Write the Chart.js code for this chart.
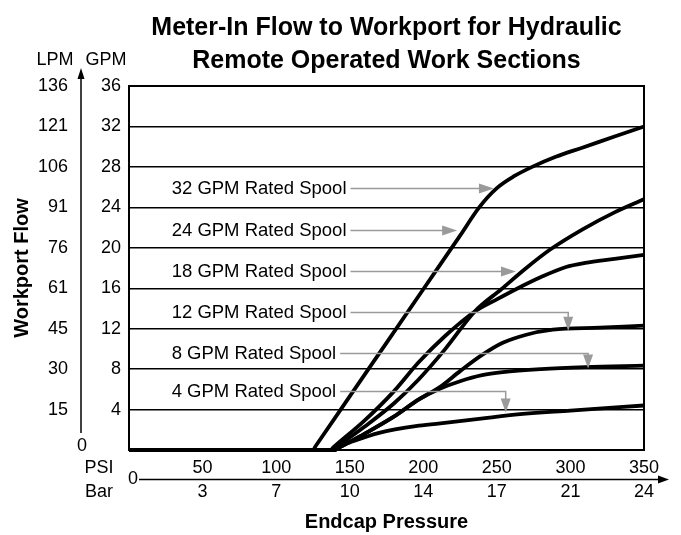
<!DOCTYPE html>
<html>
<head>
<meta charset="utf-8">
<title>Meter-In Flow to Workport</title>
<script src="https://cdn.jsdelivr.net/npm/chart.js@4/dist/chart.umd.min.js"></script>
<style>
  html, body { margin: 0; padding: 0; background: #ffffff; }
  #appLineChart { display: block; }
</style>
</head>
<body>
<canvas id="appLineChart" width="681" height="535"></canvas>
<script>
/*********************************************************************************************************
 *                                          CHART DATA
 *********************************************************************************************************/

const psiTicks = [0, 50, 100, 150, 200, 250, 300, 350];
const barTicks = [0, 3, 7, 10, 14, 17, 21, 24];
const gpmTicks = [0, 4, 8, 12, 16, 20, 24, 28, 32, 36];
const lpmTicks = [0, 15, 30, 45, 61, 76, 91, 106, 121, 136];

const spoolNames = [
  "32 GPM Rated Spool", "24 GPM Rated Spool", "18 GPM Rated Spool",
  "12 GPM Rated Spool", "8 GPM Rated Spool", "4 GPM Rated Spool",
];

// endcap pressure (psi) / workport flow (gpm)
const psi32 = [0, 125, 127, 150, 175, 200, 225, 238, 250, 262, 274, 290, 308, 330, 350];
const gpm32 = [0, 0, 0.42, 5.3, 10.6, 15.9, 21.2, 24, 25.9, 27.1, 28, 29.0, 29.9, 31, 32];

const psi24 = [0, 138, 140, 160, 180, 197, 215, 235, 253, 270, 286, 308, 330, 350];
const gpm24 = [0, 0, 0.2, 2.3, 4.6, 7.0, 10.0, 13.7, 15.9, 18.0, 19.8, 21.8, 23.5, 24.8];

const psi18 = [0, 137, 139, 160, 180, 197, 215, 235, 250, 263, 280, 297, 310, 330, 350];
const gpm18 = [0, 0, 0.27, 2.9, 5.8, 8.7, 11.3, 13.7, 14.9, 15.9, 17.1, 18.1, 18.5, 18.9, 19.3];

const psi12 = [0, 140, 142, 160, 180, 197, 212, 225, 240, 254, 270, 288, 320, 350];
const gpm12 = [0, 0, 0.17, 1.6, 3.3, 5.0, 6.3, 7.8, 9.4, 10.6, 11.4, 11.9, 12.1, 12.3];

const psi8 = [0, 140, 142, 160, 180, 197, 212, 225, 240, 254, 280, 310, 350];
const gpm8 = [0, 0, 0.17, 1.6, 3.3, 5.0, 6.1, 6.8, 7.4, 7.7, 8.0, 8.2, 8.35];

const psi4 = [0, 137, 139, 150, 170, 197, 216, 245, 256, 300, 350];
const gpm4 = [0, 0, 0.14, 0.75, 1.7, 2.4, 2.7, 3.2, 3.4, 3.9, 4.4];

/*********************************************************************************************************
 *                                          APP CHART SETTINGS
 *********************************************************************************************************/

const FONT = "'Liberation Sans', Arial, Helvetica, sans-serif";

const lineChartSettings = {
  chartTitle: ["Meter-In Flow to Workport for Hydraulic", "Remote Operated Work Sections"],
  xAxisTitle: "Endcap Pressure",
  yAxisTitle: "Workport Flow",
  lineColor: "#000000",
  calloutColor: "#9a9a9a",
};

// where each callout label sits and where its grey arrow points (data units)
const callouts = [
  { text: spoolNames[0], labelX: 29, labelY: 25.9, tipX: 248, tipY: 25.9, bend: false },
  { text: spoolNames[1], labelX: 29, labelY: 21.8, tipX: 223, tipY: 21.8, bend: false },
  { text: spoolNames[2], labelX: 29, labelY: 17.7, tipX: 263, tipY: 17.7, bend: false },
  { text: spoolNames[3], labelX: 29, labelY: 13.6, tipX: 298.5, tipY: 11.8, bend: true },
  { text: spoolNames[4], labelX: 29, labelY: 9.6, tipX: 312, tipY: 8.05, bend: true },
  { text: spoolNames[5], labelX: 29, labelY: 5.8, tipX: 256, tipY: 3.7, bend: true },
];

/*********************************************************************************************************
 *                                          DRAW HELPERS
 *********************************************************************************************************/

function drawArrowHead(ctx, x, y, dir, len, half) {
  // dir: "right" | "down" | "up"
  ctx.beginPath();
  if (dir === "right") {
    ctx.moveTo(x, y);
    ctx.lineTo(x - len, y - half);
    ctx.lineTo(x - len, y + half);
  } else if (dir === "down") {
    ctx.moveTo(x, y);
    ctx.lineTo(x - half, y - len);
    ctx.lineTo(x + half, y - len);
  } else {
    ctx.moveTo(x, y);
    ctx.lineTo(x - half, y + len);
    ctx.lineTo(x + half, y + len);
  }
  ctx.closePath();
  ctx.fill();
}

const extrasPlugin = {
  id: "extras",
  afterDatasetsDraw(chart) {
    const ctx = chart.ctx;
    const xs = chart.scales.x;
    const ys = chart.scales.y;
    const area = chart.chartArea;

    ctx.save();

    // plot frame
    ctx.strokeStyle = "#000";
    ctx.lineWidth = 2;
    ctx.strokeRect(area.left, area.top, area.right - area.left, area.bottom - area.top);

    // grey callouts
    ctx.font = "18.5px " + FONT;
    ctx.textBaseline = "middle";
    ctx.textAlign = "left";
    ctx.strokeStyle = lineChartSettings.calloutColor;
    ctx.fillStyle = lineChartSettings.calloutColor;
    ctx.lineWidth = 1.5;
    callouts.forEach(c => {
      const lx = xs.getPixelForValue(c.labelX);
      const ly = Math.round(ys.getPixelForValue(c.labelY)) + 0.5;
      const w = ctx.measureText(c.text).width;
      const tx = xs.getPixelForValue(c.tipX);
      const ty = ys.getPixelForValue(c.tipY);
      ctx.fillStyle = "#000";
      ctx.fillText(c.text, lx, ly);
      ctx.fillStyle = lineChartSettings.calloutColor;
      ctx.beginPath();
      ctx.moveTo(lx + w + 4, ly);
      if (c.bend) {
        ctx.lineTo(tx, ly);
        ctx.lineTo(tx, ty - 12);
        ctx.stroke();
        drawArrowHead(ctx, tx, ty, "down", 14, 5);
      } else {
        ctx.lineTo(tx - 12, ly);
        ctx.stroke();
        drawArrowHead(ctx, tx, ly, "right", 15, 5);
      }
    });

    // LPM column and its arrow
    ctx.fillStyle = "#000";
    ctx.strokeStyle = "#000";
    ctx.font = "18px " + FONT;
    ctx.textAlign = "right";
    for (let i = 1; i < gpmTicks.length; i++) {
      ctx.fillText(String(lpmTicks[i]), 68, ys.getPixelForValue(gpmTicks[i]));
    }
    ctx.textAlign = "center";
    ctx.fillText(String(lpmTicks[0]), 82, ys.getPixelForValue(0) - 4);
    ctx.fillText("LPM", 55, 60);
    ctx.fillText("GPM", 106, 60);

    ctx.lineWidth = 1.5;
    ctx.beginPath();
    ctx.moveTo(81, 433);
    ctx.lineTo(81, 76);
    ctx.stroke();
    drawArrowHead(ctx, 81, 68, "up", 11, 3.5);

    // PSI / Bar row labels and pressure arrow
    ctx.textAlign = "center";
    ctx.fillText("PSI", 99, 468);
    ctx.fillText("Bar", 99, 492);
    ctx.fillText(String(psiTicks[0]), 133, 479);
    ctx.beginPath();
    ctx.moveTo(139, 479.5);
    ctx.lineTo(660, 479.5);
    ctx.stroke();
    drawArrowHead(ctx, 669, 479.5, "right", 11, 4);

    ctx.restore();
  },
};

/*********************************************************************************************************
 *                                          CHART OPTIONS
 *********************************************************************************************************/

function getLineChartOptions() {
  return {
    responsive: false,
    animation: false,
    devicePixelRatio: 1,
    layout: { padding: { left: 0, right: 37, top: 0, bottom: 0 } },
    plugins: {
      legend: { display: false },
      tooltip: { enabled: false },
      title: {
        display: true,
        fullSize: false,
        text: lineChartSettings.chartTitle,
        color: "#000",
        font: { family: FONT, size: 25, weight: "bold", lineHeight: 1.32 },
        padding: { top: 12, bottom: 8 },
      },
    },
    scales: {
      x: {
        type: "linear",
        min: 0,
        max: 350,
        afterBuildTicks: scale => { scale.ticks = psiTicks.map(v => ({ value: v })); },
        afterFit: scale => { scale.height = 85; },
        grid: { display: false, drawTicks: false },
        border: { display: true, color: "#000", width: 2 },
        ticks: {
          padding: 6,
          maxRotation: 0,
          autoSkip: false,
          color: "#000",
          font: { family: FONT, size: 18, lineHeight: 1.333 },
          callback: (value, index) => index === 0 ? "" : [String(psiTicks[index]), String(barTicks[index])],
        },
        title: {
          display: true,
          text: lineChartSettings.xAxisTitle,
          color: "#000",
          font: { family: FONT, size: 20, weight: "bold", lineHeight: 1.2 },
          padding: { top: 0, bottom: 1 },
        },
      },
      y: {
        type: "linear",
        min: 0,
        max: 36,
        afterBuildTicks: scale => { scale.ticks = gpmTicks.map(v => ({ value: v })); },
        afterFit: scale => { scale.width = 129; },
        grid: { display: true, drawTicks: false, color: "#000", lineWidth: 1.4 },
        border: { display: true, color: "#000", width: 2 },
        ticks: {
          padding: 8,
          color: "#000",
          font: { family: FONT, size: 18 },
          callback: (value, index) => index === 0 ? "" : String(gpmTicks[index]),
        },
        title: {
          display: true,
          text: lineChartSettings.yAxisTitle,
          color: "#000",
          font: { family: FONT, size: 20, weight: "bold", lineHeight: 1.2 },
          padding: { top: 10 },
        },
      },
    },
  };
}

/*********************************************************************************************************
 *                                          CHART DATA BUILD
 *********************************************************************************************************/

function toPoints(psi, gpm) {
  const pts = [];
  for (let i = 0; i < psi.length; i++) {
    pts.push({ x: psi[i], y: gpm[i] });
  }
  return pts;
}

function getLineChartData() {
  const series = [
    [psi4, gpm4], [psi8, gpm8], [psi12, gpm12],
    [psi18, gpm18], [psi24, gpm24], [psi32, gpm32],
  ];
  const labels = spoolNames.slice().reverse();
  const datasets = series.map((s, i) => ({
    label: labels[i],
    data: toPoints(s[0], s[1]),
    borderColor: lineChartSettings.lineColor,
    borderWidth: 3.8,
    pointRadius: 0,
    fill: false,
    cubicInterpolationMode: "monotone",
    clip: 4,
  }));
  return { datasets: datasets };
}

/*********************************************************************************************************
 *                                          RENDER THE LINE CHART
 *********************************************************************************************************/

function getLineChart() {
  Chart.defaults.font.family = FONT;
  Chart.defaults.color = "#000";
  const el = document.getElementById("appLineChart");
  new Chart(el, {
    type: "line",
    data: getLineChartData(),
    options: getLineChartOptions(),
    plugins: [extrasPlugin],
  });
}

getLineChart();
</script>
</body>
</html>
